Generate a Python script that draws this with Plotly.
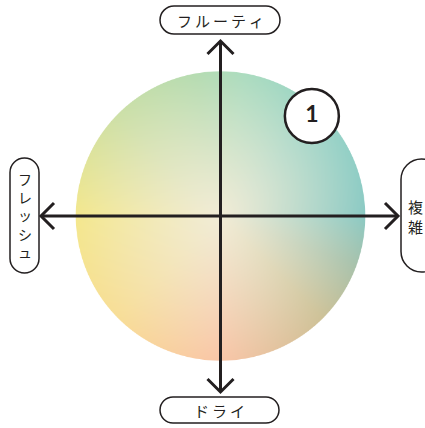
import base64
import struct
import zlib

import numpy as np
import plotly.graph_objects as go

# --- data ---------------------------------------------------------------
label_top = "フルーティ"
label_bottom = "ドライ"
label_left = "フレッシュ"
label_right = "複雑"

point_x = [0.63]
point_y = [0.69]
point_text = ["1"]

# rim colours of the flavour circle (angle in degrees, counter-clockwise from right)
rim_angles = [0, 45, 80, 100, 135, 180, 225, 270, 315, 340]
rim_colors = [
    (140, 202, 196),
    (152, 212, 200),
    (172, 220, 192),
    (182, 220, 178),
    (205, 224, 168),
    (244, 232, 142),
    (248, 222, 152),
    (250, 198, 168),
    (206, 194, 152),
    (168, 194, 172),
]
center_color = (241, 236, 214)

INK = "#231f20"
W, H = 425, 428
CX, CY, S = 220.5, 216, 145   # pixel centre and pixels per unit


def u(px, py):
    return (px - CX) / S, (CY - py) / S


def png_uri(rgba):
    h, w, _ = rgba.shape
    raw = b"".join(b"\x00" + rgba[i].tobytes() for i in range(h))

    def chunk(tag, data):
        c = struct.pack(">I", len(data)) + tag + data
        return c + struct.pack(">I", zlib.crc32(tag + data) & 0xffffffff)

    png = b"\x89PNG\r\n\x1a\n"
    png += chunk(b"IHDR", struct.pack(">IIBBBBB", w, h, 8, 6, 0, 0, 0))
    png += chunk(b"IDAT", zlib.compress(raw, 9))
    png += chunk(b"IEND", b"")
    return "data:image/png;base64," + base64.b64encode(png).decode()


def gradient_disc(n=480):
    g = np.linspace(-1, 1, n)
    xx, yy = np.meshgrid(g, -g)
    r = np.sqrt(xx ** 2 + yy ** 2)
    th = np.degrees(np.arctan2(yy, xx)) % 360
    angs = np.array(rim_angles + [rim_angles[0] + 360], dtype=float)
    cols = np.array(rim_colors + [rim_colors[0]], dtype=float)
    rim = np.stack([np.interp(th, angs, cols[:, k]) for k in range(3)], axis=-1)
    w = np.clip(r, 0, 1) ** 1.15
    rgb = np.array(center_color, dtype=float) + (rim - np.array(center_color)) * w[..., None]
    alpha = np.clip((1 - r) * n / 2 + 0.5, 0, 1) * 255
    out = np.concatenate([rgb, alpha[..., None]], axis=-1)
    return np.clip(out, 0, 255).astype(np.uint8)


def pill(x0, y0, x1, y1):
    r = min(x1 - x0, y1 - y0) / 2
    k = 0.5523 * r
    pts = [
        ("M", [(x0 + r, y0)]),
        ("L", [(x1 - r, y0)]),
        ("C", [(x1 - r + k, y0), (x1, y0 + r - k), (x1, y0 + r)]),
        ("L", [(x1, y1 - r)]),
        ("C", [(x1, y1 - r + k), (x1 - r + k, y1), (x1 - r, y1)]),
        ("L", [(x0 + r, y1)]),
        ("C", [(x0 + r - k, y1), (x0, y1 - r + k), (x0, y1 - r)]),
        ("L", [(x0, y0 + r)]),
        ("C", [(x0, y0 + r - k), (x0 + r - k, y0), (x0 + r, y0)]),
    ]
    s = ""
    for cmd, ps in pts:
        s += cmd + " ".join("%.4f,%.4f" % u(px, py) for px, py in ps)
    return s + " Z"


def chevron(tip, d1, d2):
    a = u(tip[0] + d1[0], tip[1] + d1[1])
    t = u(*tip)
    b = u(tip[0] + d2[0], tip[1] + d2[1])
    return "M%.4f,%.4f L%.4f,%.4f L%.4f,%.4f" % (a + t + b)


fig = go.Figure()

fig.add_layout_image(dict(
    source=png_uri(gradient_disc()),
    xref="x", yref="y", x=-1, y=1, sizex=2, sizey=2,
    sizing="stretch", layer="below",
))

shapes = []
line = dict(color=INK, width=3)
# axes
x0, _ = u(41, 0)
x1, _ = u(398, 0)
_, ytop = u(0, 41)
_, ybot = u(0, 392)
shapes.append(dict(type="line", x0=x0, x1=x1, y0=0, y1=0, line=line))
shapes.append(dict(type="line", x0=0, x1=0, y0=ybot, y1=ytop, line=line))
a = 13
shapes.append(dict(type="path", path=chevron((CX, 41), (-a, a), (a, a)), line=line))
shapes.append(dict(type="path", path=chevron((CX, 392), (-a, -a), (a, -a)), line=line))
shapes.append(dict(type="path", path=chevron((41, CY), (a, -a), (a, a)), line=line))
shapes.append(dict(type="path", path=chevron((398, CY), (-a, -a), (-a, a)), line=line))

# label boxes
box_line = dict(color=INK, width=1.5)
for bx in [(160, 6, 280, 34), (160, 397, 279, 423), (10, 158, 39, 273), (401, 159, 442, 272)]:
    shapes.append(dict(type="path", path=pill(*bx), fillcolor="white", line=box_line))

fig.update_layout(shapes=shapes)

fig.add_trace(go.Scatter(
    x=point_x, y=point_y, mode="markers+text",
    text=["<b>%s</b>" % t for t in point_text],
    textposition="middle center",
    textfont=dict(family="Lato, Noto Sans", size=23, color=INK),
    marker=dict(size=54, color="white", line=dict(color=INK, width=2.5)),
    hoverinfo="skip", showlegend=False,
))

jp = "Noto Sans CJK JP"
thin = "\u2009"
annotations = [
    dict(x=u(220, 20)[0], y=u(220, 20)[1], text=thin.join(label_top), font=dict(family=jp, size=15, color=INK)),
    dict(x=u(219.5, 410)[0], y=u(219.5, 410)[1], text=thin.join(label_bottom), font=dict(family=jp, size=15, color=INK)),
    dict(x=u(24.5, 215.5)[0], y=u(24.5, 215.5)[1], text="<br>".join(label_left), font=dict(family=jp, size=14, color=INK)),
    dict(x=u(415, 216)[0], y=u(415, 216)[1], text="<br>".join(label_right), font=dict(family=jp, size=15, color=INK)),
]
for an in annotations:
    an.update(xref="x", yref="y", showarrow=False, xanchor="center", yanchor="middle", align="center")
fig.update_layout(annotations=annotations)

fig.update_layout(
    width=W, height=H,
    margin=dict(l=0, r=0, t=0, b=0),
    paper_bgcolor="white", plot_bgcolor="white",
    xaxis=dict(range=[(0 - CX) / S, (W - CX) / S], visible=False, fixedrange=True),
    yaxis=dict(range=[(CY - H) / S, CY / S], visible=False, fixedrange=True),
    showlegend=False,
)

fig.write_html(
    "out.html",
    config={"displayModeBar": False},
    post_script="document.body.style.margin='0';document.body.style.overflow='hidden';",
)
